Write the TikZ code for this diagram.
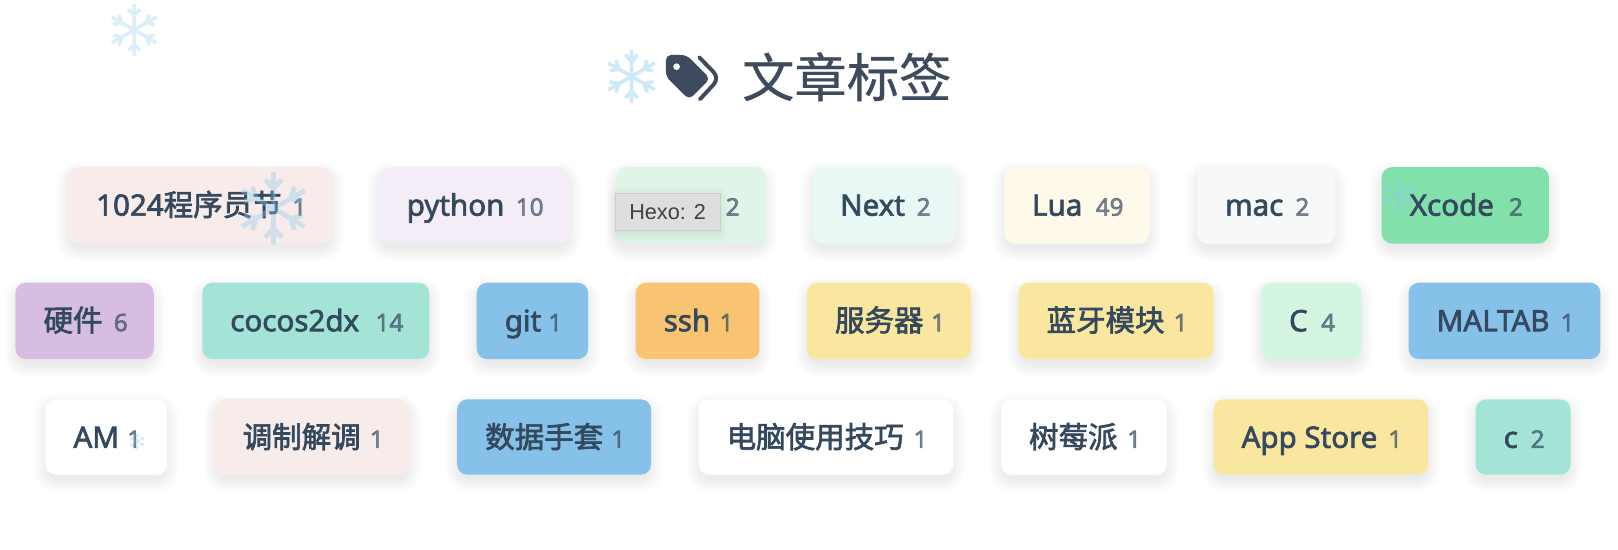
\documentclass[tikz,border=0pt]{standalone}
\usepackage{fontspec}
\setmainfont{Noto Sans}[FakeBold=2.2]
\newfontfamily\cjk{Noto Sans CJK SC}[FakeBold=2.2]
\newfontfamily\cjktitle{Noto Sans CJK SC}[FakeBold=0.5]
\newfontfamily\tipfont{Liberation Sans}
\definecolor{ink}{HTML}{34495E}
\definecolor{titleink}{HTML}{3E4B5E}
\definecolor{flakeblue}{HTML}{8CCBEC}
\tikzset{
  tagbox/.style={rectangle,rounded corners=10pt,inner sep=0pt,outer sep=0pt},
  taglabel/.style={anchor=base west,inner sep=0pt,text=ink,font=\fontsize{28.6}{30}\selectfont},
  tagcount/.style={anchor=base east,inner sep=0pt,text=ink,text opacity=.65,font=\fontsize{23.5}{25}\selectfont},
  tipbox/.style={rectangle,fill=black!13,draw=black!20,line width=.8pt,inner sep=0pt,
    minimum width=102pt,minimum height=36pt,text=black!75,font=\tipfont\fontsize{21}{23}\selectfont}
}
% name, x0, x1, y0, y1, colour, label, count
\newcommand\tagitem[8]{%
  \definecolor{tagfill}{HTML}{#6}%
  \pgfmathsetmacro\tcx{(#2+#3)/2}\pgfmathsetmacro\tcy{(#4+#5)/2}%
  \pgfmathsetmacro\tw{#3-#2}\pgfmathsetmacro\th{#5-#4}%
  \foreach \i in {1,...,10}{
    \fill[black,opacity=.0065,rounded corners=10pt+\i*1.1pt]
      (#2+3-\i*1.4,#4+6+3-\i*1.4) rectangle (#3-3+\i*1.4,#5+6-3+\i*1.4);
  }
  \node[tagbox,fill=tagfill,minimum width=\tw pt,minimum height=\th pt] (#1) at (\tcx,\tcy) {};
  \if\relax\detokenize{#7}\relax\else
  \node[taglabel] (#1-label) at (#2+27,#4+47) {#7};
  \fi
  \node[tagcount] (#1-count) at (#3-25,#4+47) {#8};
}
\newcommand\flake[4]{%
  \begin{scope}[shift={(#1,#2)},scale=#3]
    \draw[flakeblue,opacity=#4,line width=.135*#3 pt,line cap=butt]
      \foreach \a in {30,90,...,330}{
        (0,0) -- (\a:1)
        ([shift=(\a:.55)]\a+42:.34) -- (\a:.55) -- ([shift=(\a:.55)]\a-42:.34)
      };
  \end{scope}
}
\begin{document}
\begin{tikzpicture}[x=1pt,y=-1pt]
\useasboundingbox (0,0) rectangle (1568,533);
\fill[white] (0,0) rectangle (1568,533);

% row 1
\tagitem{t1}{66}{322}{162}{236}{F8ECEA}{1024{\cjk 程序员节}}{1}
\tagitem{t2}{367}{552}{162}{236}{F4EDF8}{python}{10}
\tagitem{t3}{597}{742}{162}{236}{DFF5E7}{}{2}
\tagitem{t4}{787}{927}{162}{236}{E9F7F5}{Next}{2}
\tagitem{t5}{973}{1114}{162}{236}{FEF9E9}{Lua}{49}
\tagitem{t6}{1160}{1294}{162}{236}{F7F9F9}{mac}{2}
\tagitem{t7}{1339}{1501}{162}{236}{82E0AA}{Xcode}{2}
% row 2
\tagitem{u1}{15}{149}{274}{348}{D7BDE2}{{\cjk 硬件}}{6}
\tagitem{u2}{196}{416}{274}{348}{A3E4D7}{cocos2dx}{14}
\tagitem{u3}{462}{570}{274}{348}{85C1E9}{git}{1}
\tagitem{u4}{616}{736}{274}{348}{F8C471}{ssh}{1}
\tagitem{u5}{782}{941}{274}{348}{F9E79F}{{\cjk 服务器}}{1}
\tagitem{u6}{987}{1176}{274}{348}{F9E79F}{{\cjk 蓝牙模块}}{1}
\tagitem{u7}{1222}{1319}{274}{348}{D5F5E3}{C}{4}
\tagitem{u8}{1365}{1551}{274}{348}{85C1E9}{MALTAB}{1}
% row 3
\tagitem{v1}{44}{162}{387}{460}{FFFFFF}{AM}{1}
\tagitem{v2}{208}{397}{387}{460}{F8ECEA}{{\cjk 调制解调}}{1}
\tagitem{v3}{443}{631}{387}{460}{85C1E9}{{\cjk 数据手套}}{1}
\tagitem{v4}{677}{924}{387}{460}{FFFFFF}{{\cjk 电脑使用技巧}}{1}
\tagitem{v5}{970}{1131}{387}{460}{FFFFFF}{{\cjk 树莓派}}{1}
\tagitem{v6}{1176}{1384}{387}{460}{F9E79F}{App Store}{1}
\tagitem{v7}{1430}{1522}{387}{460}{A3E4D7}{c}{2}

% title
\node[anchor=base west,inner sep=0pt,text=titleink,font=\cjktitle\fontsize{50.7}{54}\selectfont] (title) at (719,94) {文章标签};
\begin{scope}[shift={(542.6,29.07)},scale=.323]
  \fill[titleink,rounded corners=5pt]
    (318,75) -- (380,75) -- (451,146) -- (388,209) -- (318,140) -- cycle;
  \fill[white] (350,110) circle (10);
  \draw[titleink,line width=3.8pt,line cap=round,line join=round]
    (418,82) -- (460,125) .. controls (472,138) and (472,152) .. (460,165) -- (420,208);
\end{scope}

% falling snowflakes
\flake{130}{29}{25}{.30}
\flake{612}{74}{26}{.42}
\flake{265}{202}{35}{.38}
\flake{1355}{189}{17}{.45}
\flake{133}{428}{8}{.38}

% tooltip
\foreach \i in {1,...,7}{
  \fill[black,opacity=.008,rounded corners=\i*1.2pt] (596+2-\i*1.4,187+2+2-\i*1.4) rectangle (698-2+\i*1.4,223+3-2+\i*1.4);
}
\node[tipbox] (tip) at (647,205) {Hexo: 2};
\end{tikzpicture}
\end{document}
